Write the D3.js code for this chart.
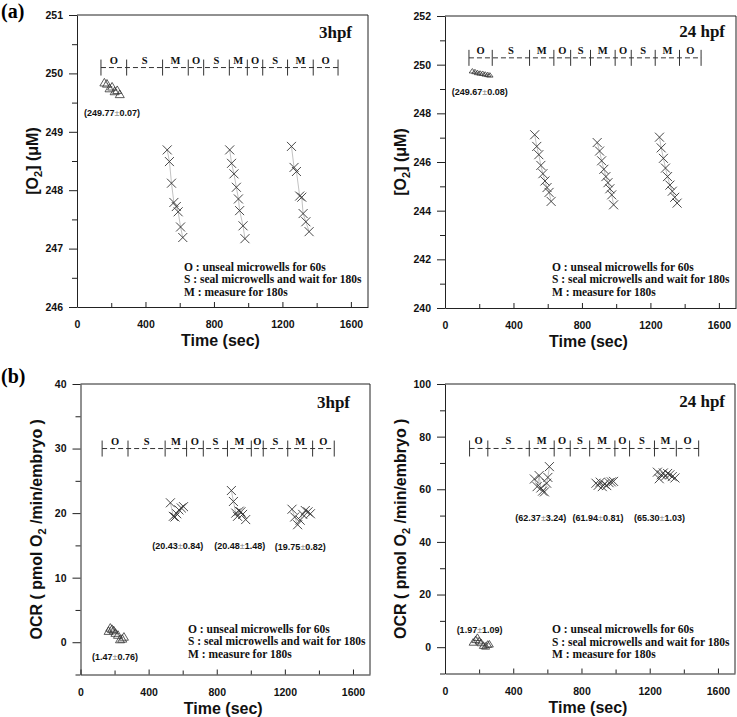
<!DOCTYPE html>
<html>
<head>
<meta charset="utf-8">
<script src="https://cdn.jsdelivr.net/npm/d3@7"></script>
<style>
  body { margin: 0; background: #fff; }
  svg { display: block; }
</style>
</head>
<body>
<svg id="chart" width="737" height="717"></svg>
<script>
// Shared axis / protocol data
const xMajor = [0, 400, 800, 1200, 1600];
const xMinor = [200, 600, 1000, 1400];
const phaseNames = ["O", "S", "M", "O", "S", "M", "O", "S", "M", "O"];
const legendLines = [
    "O : unseal microwells for 60s",
    "S : seal microwells and wait for 180s",
    "M : measure for 180s"
];

// (a) [O2] at 3hpf
const a3Phases = [140, 290, 500, 650, 740, 890, 995, 1085, 1230, 1380, 1525];
const a3TriTime = [160, 175, 190, 205, 220, 235, 250];
const a3TriVal = [249.85, 249.83, 249.75, 249.78, 249.70, 249.72, 249.65];
const a3XTime = [
    [527, 540, 552, 566, 580, 591, 605, 618],
    [892, 903, 917, 931, 943, 950, 970, 981],
    [1253, 1268, 1282, 1301, 1313, 1321, 1337, 1356]
];
const a3XVal = [
    [248.69, 248.49, 248.12, 247.79, 247.72, 247.63, 247.37, 247.19],
    [248.69, 248.46, 248.28, 248.05, 247.85, 247.65, 247.39, 247.17],
    [248.75, 248.39, 248.32, 247.90, 247.88, 247.60, 247.46, 247.29]
];
const a3Stats = [["249.77", "0.07"]];

// (a) [O2] at 24 hpf
const a24Phases = [140, 276, 494, 636, 734, 850, 994, 1088, 1228, 1370, 1496];
const a24TriTime = [160, 175, 190, 205, 220, 235, 250, 262];
const a24TriVal = [249.75, 249.72, 249.68, 249.66, 249.65, 249.62, 249.60, 249.58];
const a24XTime = [
    [524, 536, 548, 560, 572, 584, 596, 608, 620],
    [889, 903, 915, 928, 940, 952, 963, 974, 985],
    [1253, 1263, 1276, 1288, 1300, 1314, 1328, 1342, 1356]
];
const a24XVal = [
    [247.12, 246.64, 246.30, 245.86, 245.52, 245.22, 244.95, 244.75, 244.38],
    [246.80, 246.45, 246.05, 245.70, 245.40, 245.15, 244.90, 244.65, 244.24],
    [247.02, 246.58, 246.15, 245.75, 245.40, 245.05, 244.80, 244.55, 244.31]
];
const a24Stats = [["249.67", "0.08"]];

// (b) OCR at 3hpf
const b3Phases = [127, 279, 497, 623, 721, 863, 1003, 1073, 1217, 1363, 1490];
const b3TriTime = [165, 175, 185, 195, 205, 220, 232, 245, 255];
const b3TriVal = [1.8, 2.3, 2.1, 1.9, 1.5, 1.2, 0.5, 0.6, 0.9];
const b3XTime = [
    [528, 545, 555, 565, 578, 592, 605],
    [886, 898, 912, 922, 932, 942, 952, 970],
    [1242, 1258, 1275, 1290, 1305, 1320, 1336, 1350]
];
const b3XVal = [
    [21.6, 19.5, 19.4, 19.9, 20.5, 20.8, 21.0],
    [23.5, 21.8, 20.0, 19.5, 20.3, 20.2, 19.8, 19.0],
    [20.6, 19.4, 18.2, 18.9, 19.8, 20.4, 20.2, 19.9]
];
const b3Stats = [["1.47", "0.76"], ["20.43", "0.84"], ["20.48", "1.48"], ["19.75", "0.82"]];

// (b) OCR at 24 hpf
const b24Phases = [144, 251, 494, 640, 734, 848, 996, 1082, 1228, 1356, 1487];
const b24TriTime = [165, 180, 190, 200, 212, 225, 238, 250, 260];
const b24TriVal = [2.0, 3.0, 3.8, 2.5, 1.8, 0.8, 0.5, 1.2, 1.3];
const b24XTime = [
    [524, 540, 552, 562, 572, 583, 596, 603, 612],
    [885, 898, 910, 922, 935, 948, 962, 975, 988],
    [1245, 1256, 1268, 1280, 1292, 1305, 1318, 1332, 1348]
];
const b24XVal = [
    [63.9, 61.0, 65.2, 60.5, 59.3, 59.0, 62.3, 64.5, 68.6],
    [62.3, 61.5, 62.7, 61.0, 62.0, 61.4, 62.5, 62.8, 63.0],
    [66.5, 64.0, 65.5, 66.2, 65.0, 66.0, 65.5, 64.8, 64.3]
];
const b24Stats = [["1.97", "1.09"], ["62.37", "3.24"], ["61.94", "0.81"], ["65.30", "1.03"]];

const svg = d3.select("#chart");
const serif = '"Liberation Serif", "Times New Roman", serif';
const sans = '"Liberation Sans", Arial, sans-serif';
const ink = "#333";

function drawPanel(p) {
    const x = d3.scaleLinear().domain([0, 1700]).range([p.left, p.right]);
    const y = d3.scaleLinear().domain(p.yDomain).range([p.bottom, p.top]);
    const g = svg.append("g");

    // y axis, ticks pointing out
    g.append("g").attr("transform", `translate(${p.left},0)`)
        .call(d3.axisLeft(y).tickValues(p.yMajor).tickSizeInner(8).tickSizeOuter(0)
            .tickPadding(6).tickFormat(d3.format("d")));
    g.append("g").attr("transform", `translate(${p.left},0)`)
        .call(d3.axisLeft(y).tickValues(p.yMinor).tickSize(5).tickFormat(""))
        .call(s => s.select(".domain").remove());

    // x axis, ticks pointing in
    g.append("g").attr("transform", `translate(0,${p.bottom})`)
        .call(d3.axisBottom(x).tickValues(xMajor).tickSizeInner(-5).tickSizeOuter(0)
            .tickPadding(14).tickFormat(d3.format("d")));
    g.append("g").attr("transform", `translate(0,${p.bottom})`)
        .call(d3.axisBottom(x).tickValues(xMinor).tickSize(-4).tickFormat(""))
        .call(s => s.select(".domain").remove());

    g.selectAll(".tick text")
        .attr("font-family", sans).attr("font-weight", "bold")
        .attr("font-size", 10.5).attr("fill", "#111");
    g.selectAll(".domain, .tick line").attr("stroke", "#222");

    // top and right frame
    g.append("path")
        .attr("d", `M${p.left},${p.top}H${p.right}V${p.bottom}`)
        .attr("fill", "none").attr("stroke", "#222");

    // protocol timeline
    const ty = y(p.phaseY);
    const ph = p.phases;
    g.append("line")
        .attr("x1", x(ph[0])).attr("x2", x(ph[ph.length - 1]))
        .attr("y1", ty).attr("y2", ty)
        .attr("stroke", ink).attr("stroke-dasharray", "5,3");
    g.selectAll(".sep").data(ph).join("line")
        .attr("x1", d => x(d)).attr("x2", d => x(d))
        .attr("y1", ty - 8).attr("y2", ty + 8)
        .attr("stroke", ink);
    g.selectAll(".phase").data(phaseNames).join("text")
        .attr("x", (d, i) => x((ph[i] + ph[i + 1]) / 2))
        .attr("y", ty - 4)
        .attr("text-anchor", "middle")
        .attr("font-family", serif).attr("font-weight", "bold")
        .attr("font-size", 10.5).attr("fill", "#111")
        .text(d => d);

    // connecting lines
    const line = d3.line().x(d => x(d[0])).y(d => y(d[1]));
    const tri = d3.zip(p.triTime, p.triVal);
    g.append("path").attr("d", line(tri))
        .attr("fill", "none").attr("stroke", "#999").attr("stroke-width", 0.6);
    p.xTime.forEach((ts, k) => {
        const pts = d3.zip(ts, p.xVal[k]);
        g.append("path").attr("d", line(pts))
            .attr("fill", "none").attr("stroke", "#999").attr("stroke-width", 0.6);
        g.selectAll(null).data(pts).join("path")
            .attr("transform", d => `translate(${x(d[0])},${y(d[1])})`)
            .attr("d", "M-4.5,-4.5L4.5,4.5M-4.5,4.5L4.5,-4.5")
            .attr("fill", "none").attr("stroke", ink).attr("stroke-width", 0.9);
    });

    // open triangles
    const tw = p.triW, th = p.triH;
    g.selectAll(null).data(tri).join("path")
        .attr("transform", d => `translate(${x(d[0])},${y(d[1])})`)
        .attr("d", `M0,${-th}L${tw},${th}L${-tw},${th}Z`)
        .attr("fill", "none").attr("stroke", ink).attr("stroke-width", 0.8);

    // mean ± SD labels
    p.stats.forEach((s, i) => {
        const pos = p.statPos[i];
        const t = g.append("text")
            .attr("x", x(pos[0])).attr("y", y(pos[1]) + 3)
            .attr("text-anchor", "middle")
            .attr("font-family", sans).attr("font-weight", "bold")
            .attr("font-size", 9).attr("fill", "#111");
        t.append("tspan").text(`(${s[0]}`);
        t.append("tspan").attr("font-weight", "normal").attr("fill", "#888").text("±");
        t.append("tspan").text(`${s[1]})`);
    });

    // legend
    g.selectAll(".leg").data(legendLines).join("text")
        .attr("x", p.legX).attr("y", (d, i) => p.legY + i * 12.5)
        .attr("font-family", serif).attr("font-weight", "bold")
        .attr("font-size", 11.5).attr("fill", "#111")
        .text(d => d);

    // panel title
    g.append("text")
        .attr("x", p.titleX).attr("y", p.titleY)
        .attr("text-anchor", "end")
        .attr("font-family", serif).attr("font-weight", "bold")
        .attr("font-size", 17).attr("fill", "#111")
        .text(p.title);

    // axis titles
    g.append("text")
        .attr("x", (p.left + p.right) / 2 - 2).attr("y", p.bottom + 39)
        .attr("text-anchor", "middle")
        .attr("font-family", sans).attr("font-weight", "bold")
        .attr("font-size", 16).attr("fill", "#111")
        .text("Time (sec)");

    const yt = g.append("text")
        .attr("transform", `translate(${p.left - 39},${(p.top + p.bottom) / 2}) rotate(-90)`)
        .attr("text-anchor", "middle")
        .attr("font-family", sans).attr("font-weight", "bold")
        .attr("font-size", 16).attr("fill", "#111");
    yt.append("tspan").text(p.yLabel[0]);
    yt.append("tspan").attr("font-size", 11).attr("dy", 4).text("2");
    yt.append("tspan").attr("dy", -4).text(p.yLabel[1]);
}

drawPanel({
    left: 77, right: 368, top: 15, bottom: 307,
    yDomain: [246, 251], yMajor: d3.range(246, 252), yMinor: [246.5, 247.5, 248.5, 249.5, 250.5],
    phases: a3Phases, phaseY: 250.1,
    triTime: a3TriTime, triVal: a3TriVal, triW: 4.5, triH: 3.8,
    xTime: a3XTime, xVal: a3XVal,
    stats: a3Stats, statPos: [[205, 249.32]],
    legX: 184, legY: 270.5,
    title: "3hpf", titleX: 352, titleY: 37.5,
    yLabel: ["[O", "] (μM)"]
});

drawPanel({
    left: 445, right: 736, top: 16, bottom: 308,
    yDomain: [240, 252], yMajor: [240, 242, 244, 246, 248, 250, 252], yMinor: [241, 243, 245, 247, 249, 251],
    phases: a24Phases, phaseY: 250.28,
    triTime: a24TriTime, triVal: a24TriVal, triW: 3.2, triH: 2.2,
    xTime: a24XTime, xVal: a24XVal,
    stats: a24Stats, statPos: [[203, 248.88]],
    legX: 552, legY: 270.5,
    title: "24 hpf", titleX: 725, titleY: 37,
    yLabel: ["[O", "] (μM)"]
});

drawPanel({
    left: 80.5, right: 370, top: 384, bottom: 674.5,
    yDomain: [-5, 40], yMajor: [0, 10, 20, 30, 40], yMinor: [-5, 5, 15, 25, 35],
    phases: b3Phases, phaseY: 30,
    triTime: b3TriTime, triVal: b3TriVal, triW: 4.5, triH: 3.8,
    xTime: b3XTime, xVal: b3XVal,
    stats: b3Stats, statPos: [[202, -2.3], [571, 14.9], [935, 14.9], [1291, 14.7]],
    legX: 188, legY: 632.8,
    title: "3hpf", titleX: 350, titleY: 407.5,
    yLabel: ["OCR ( pmol O", " /min/embryo )"]
});

drawPanel({
    left: 445, right: 735, top: 384, bottom: 673.5,
    yDomain: [-10, 100], yMajor: [0, 20, 40, 60, 80, 100], yMinor: [-10, 10, 30, 50, 70, 90],
    phases: b24Phases, phaseY: 75.5,
    triTime: b24TriTime, triVal: b24TriVal, triW: 4, triH: 3.3,
    xTime: b24XTime, xVal: b24XVal,
    stats: b24Stats, statPos: [[203, 6.7], [562, 48.9], [897, 48.9], [1257, 48.9]],
    legX: 552, legY: 633,
    title: "24 hpf", titleX: 725, titleY: 406.5,
    yLabel: ["OCR ( pmol O", " /min/embryo )"]
});

// panel letters
svg.append("text").attr("x", 1).attr("y", 18)
    .attr("font-family", serif).attr("font-weight", "bold").attr("font-size", 20)
    .text("(a)");
svg.append("text").attr("x", 1).attr("y", 383)
    .attr("font-family", serif).attr("font-weight", "bold").attr("font-size", 20)
    .text("(b)");
</script>
</body>
</html>
